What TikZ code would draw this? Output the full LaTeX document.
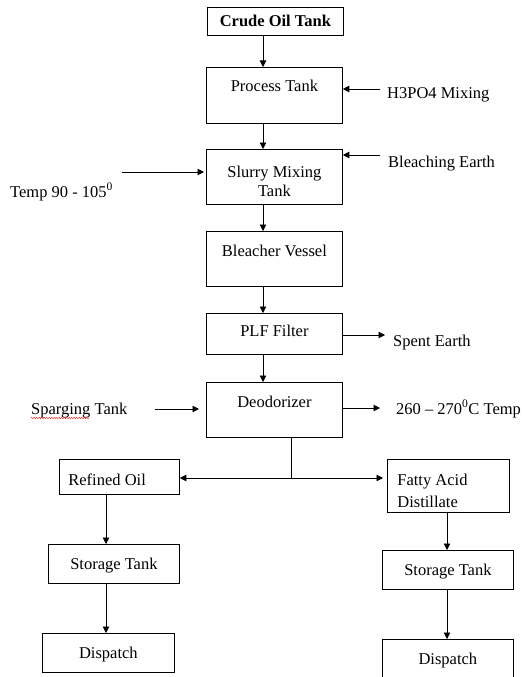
\documentclass[tikz,border=0pt]{standalone}
\usepackage{fontspec}
\setmainfont{Liberation Serif}
\usepackage{xcolor}
\usetikzlibrary{arrows.meta,decorations.pathmorphing}

\begin{document}
\begin{tikzpicture}[x=1pt,y=-1pt,
    box/.style={draw,line width=0.8pt,inner sep=0pt,anchor=north west,font=\fontsize{16.5}{19}\selectfont},
    txt/.style={inner sep=0pt,anchor=base west,font=\fontsize{16.5}{19}\selectfont},
    flow/.style={-{Triangle[length=6.5pt,width=6.5pt]},line width=0.8pt}]
    \useasboundingbox (0,0) rectangle (524,677);
    \clip (0,0) rectangle (524,677);

    % Crude oil tank
    \node[box,minimum width=136pt,text height=19pt,text depth=9pt,font=\fontsize{16.5}{19}\selectfont\bfseries] (crude) at (207,7) {Crude Oil Tank};

    % Process tank
    \node[box,minimum width=136pt,text height=24pt,text depth=32pt] (proc) at (206,67) {Process Tank};

    % Slurry mixing tank
    \node[box,minimum width=136pt,text height=47pt,text depth=8pt] (slurry) at (206,149) {\begin{tabular}[b]{@{}c@{}}Slurry Mixing\\Tank\end{tabular}};

    % Bleacher vessel
    \node[box,minimum width=136pt,text height=25pt,text depth=30pt] (bleach) at (206,231) {Bleacher Vessel};

    % PLF filter
    \node[box,minimum width=136pt,text height=23pt,text depth=18pt] (plf) at (206,313) {PLF Filter};

    % Deodorizer
    \node[box,minimum width=136pt,text height=25pt,text depth=30pt] (deo) at (206,382) {Deodorizer};

    % Refined oil side
    \node[box,minimum width=120pt,text height=26pt,text depth=9pt] (refined) at (59,459) {\makebox[102pt][l]{Refined Oil}};
    \node[box,minimum width=131pt,text height=25pt,text depth=14pt] (storeL) at (48,544) {Storage Tank};
    \node[box,minimum width=132pt,text height=25pt,text depth=14pt] (dispL) at (42,633) {Dispatch};

    % Fatty acid side
    \node[box,minimum width=122pt,text height=48pt,text depth=5pt] (fatty) at (387,459) {\begin{tabular}[b]{@{}p{102pt}@{}}Fatty Acid\\[3pt]Distillate\end{tabular}};
    \node[box,minimum width=131pt,text height=25pt,text depth=14pt] (storeR) at (382,550) {Storage Tank};
    \node[box,minimum width=131pt,text height=25pt,text depth=20pt] (dispR) at (382,639) {Dispatch};

    % Side streams
    \node[txt] (acid) at (387,99) {H3PO4 Mixing};
    \node[txt] (earth) at (388,167) {Bleaching Earth};
    \node[txt] (temp) at (10,197) {Temp 90 - 105\textsuperscript{0}};
    \node[txt] (spent) at (393,346) {Spent Earth};
    \node[txt] (sparg) at (31,414) {Sparging Tank};
    \node[txt] (hot) at (396,414) {260 – 270\textsuperscript{0}C Temp};
    \draw[red,line width=0.4pt,decorate,decoration={snake,amplitude=0.6pt,segment length=2.5pt}] ([yshift=-4pt]sparg.base west) -- ++(59,0);

    % Main line
    \coordinate (spine) at (263,0);
    \draw[flow] (crude.south -| spine) -- (proc.north -| spine);
    \draw[flow] (proc.south -| spine) -- (slurry.north -| spine);
    \draw[flow] (slurry.south -| spine) -- (bleach.north -| spine);
    \draw[flow] (bleach.south -| spine) -- (plf.north -| spine);
    \draw[flow] (plf.south -| spine) -- (deo.north -| spine);

    % Arrows in and out
    \coordinate (acidin) at (380,89);
    \draw[flow] (acidin) -- (acidin -| proc.east);
    \coordinate (earthin) at (380,155);
    \draw[flow] (earthin) -- (earthin -| slurry.east);
    \coordinate (tempin) at (122,172);
    \draw[flow,shorten >=2pt] (tempin) -- (tempin -| slurry.west);
    \coordinate (spentout) at (385,335);
    \draw[flow] (spentout -| plf.east) -- (spentout);
    \coordinate (spargin) at (155,409);
    \draw[flow,shorten >=7pt] (spargin) -- (spargin -| deo.west);
    \coordinate (hotout) at (380,408);
    \draw[flow] (hotout -| deo.east) -- (hotout);

    % Split below deodorizer
    \coordinate (split) at (291,478);
    \draw[line width=0.8pt] (deo.south -| split) -- (split);
    \draw[flow] (split) -- (split -| refined.east);
    \draw[flow,shorten >=4pt] (split) -- (split -| fatty.west);

    % Storage and dispatch
    \coordinate (leftline) at (106,0);
    \draw[flow] (refined.south -| leftline) -- (storeL.north -| leftline);
    \draw[flow] (storeL.south -| leftline) -- (dispL.north -| leftline);
    \coordinate (rightline) at (447,0);
    \draw[flow] (fatty.south -| rightline) -- (storeR.north -| rightline);
    \draw[flow] (storeR.south -| rightline) -- (dispR.north -| rightline);
\end{tikzpicture}
\end{document}
